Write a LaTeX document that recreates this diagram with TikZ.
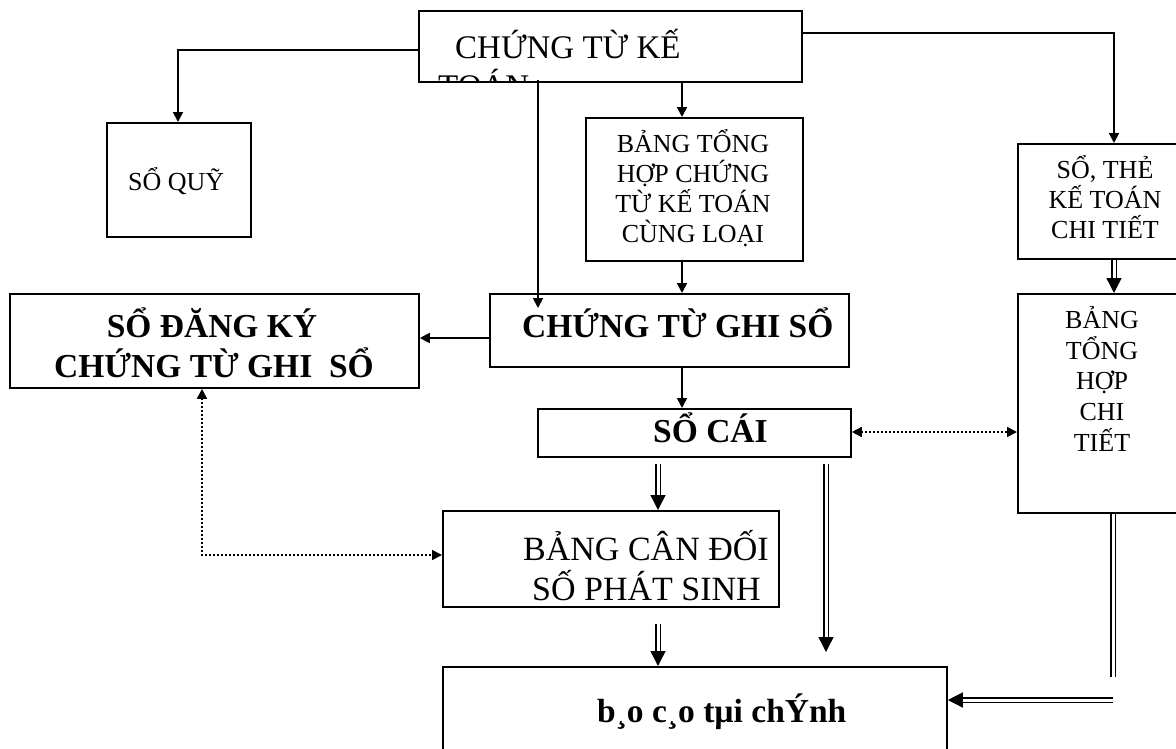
\documentclass[tikz,border=0pt]{standalone}
\usepackage{fontspec}
\setmainfont{Liberation Serif}
\usetikzlibrary{arrows.meta,calc}
\begin{document}
\begin{tikzpicture}[x=1pt,y=-1pt,
  box/.style={draw,line width=1.8pt,inner sep=0pt,anchor=north west},
  txt/.style={inner sep=0pt,anchor=base},
  txtl/.style={inner sep=0pt,anchor=base west},
  small/.style={font=\fontsize{26}{30}\selectfont},
  big/.style={font=\fontsize{34}{38}\selectfont},
  bigb/.style={font=\fontsize{33.5}{38}\selectfont\bfseries},
  arr/.style={line width=1.8pt,-{Triangle[length=10pt,width=10pt]}},
  dotarr/.style={line width=1.6pt,dash pattern=on 1.6pt off 2.4pt,{Triangle[length=10pt,width=10pt]}-{Triangle[length=10pt,width=10pt]}},
  dbl/.style={line width=1.4pt,double=white,double distance=3pt,-{Triangle[length=15pt,width=15pt]}},
  dblline/.style={line width=1.4pt,double=white,double distance=3pt}]
\useasboundingbox (0,0) rectangle (1176,748);
\clip (0,0) rectangle (1176,748);

% boxes
\node[box,minimum width=383pt,minimum height=71pt] (ctkt) at (418,10) {};
\node[box,minimum width=144pt,minimum height=114pt] (soquy) at (106,122) {};
\node[box,minimum width=217pt,minimum height=143pt] (bthctkt) at (585,117) {};
\node[box,minimum width=170pt,minimum height=115pt] (sothe) at (1017,143) {};
\node[box,minimum width=409pt,minimum height=94pt] (sodk) at (9,293) {};
\node[box,minimum width=359pt,minimum height=73pt] (ctgs) at (489,293) {};
\node[box,minimum width=170pt,minimum height=219pt] (bthct) at (1017,293) {};
\node[box,minimum width=313pt,minimum height=48pt] (socai) at (537,408) {};
\node[box,minimum width=336pt,minimum height=96pt] (bcd) at (442,510) {};
\node[box,minimum width=504pt,minimum height=100pt] (bctc) at (442,666) {};

% texts
\begin{scope}
\clip (419,11) rectangle (800,80);
\node[txtl,font=\fontsize{33}{35}\selectfont] (t1a) at (455,58) {CHỨNG TỪ KẾ};
\node[txtl,font=\fontsize{33}{35}\selectfont] (t1b) at (438,97) {TOÁN};
\end{scope}
\node[txtl,small] (tq) at (128,190) {SỔ QUỸ};

\node[txt,small] (b1) at (693,152) {BẢNG TỔNG};
\node[txt,small] (b2) at (693,182) {HỢP CHỨNG};
\node[txt,small] (b3) at (693,212) {TỪ KẾ TOÁN};
\node[txt,small] (b4) at (693,242) {CÙNG LOẠI};

\node[txt,small] (s1) at (1105,178) {SỔ, THẺ};
\node[txt,small] (s2) at (1105,208) {KẾ TOÁN};
\node[txt,small] (s3) at (1105,238) {CHI TIẾT};

\node[txt,small] (h1) at (1102,328) {BẢNG};
\node[txt,small] (h2) at (1102,359) {TỔNG};
\node[txt,small] (h3) at (1102,389) {HỢP};
\node[txt,small] (h4) at (1102,420) {CHI};
\node[txt,small] (h5) at (1102,451) {TIẾT};

\node[txt,bigb] (d1) at (212,337) {SỔ ĐĂNG KÝ};
\node[txt,bigb] (d2) at (214,377) {CHỨNG TỪ GHI\ \ SỔ};

\node[txtl,bigb] (g1) at (522,337) {CHỨNG TỪ GHI SỔ};
\node[txtl,bigb] (c1) at (653,442) {SỔ CÁI};

\node[txtl,big] (p1) at (523,560) {BẢNG CÂN ĐỐI};
\node[txtl,big] (p2) at (532,600) {SỐ PHÁT SINH};

\node[txtl,bigb] (r1) at (597,722) {b¸o c¸o tµi chÝnh};

% connectors
\draw[arr] ($(ctkt.north west)+(0,40)$) -| ($(soquy.north west)+(72,0)$);
\draw[arr] ($(ctkt.north east)+(0,23)$) -| ($(sothe.north west)+(97,0)$);
\draw[arr] ($(ctkt.south west)+(120,-3)$) -- ($(ctgs.north west)+(49,15)$);
\draw[arr] ($(ctkt.south west)+(264,0)$) -- ($(bthctkt.north west)+(97,0)$);
\draw[arr] ($(bthctkt.south west)+(97,0)$) -- ($(ctgs.north west)+(193,0)$);
\draw[arr] ($(ctgs.north west)+(0,45)$) -- ($(sodk.north east)+(0,45)$);
\draw[arr] ($(ctgs.south west)+(193,0)$) -- ($(socai.north west)+(145,0)$);

\draw[dotarr] ($(socai.north east)+(0,24)$) -- ($(bthct.north west)+(0,139)$);
\draw[dotarr] ($(sodk.south west)+(193,0)$) |- ($(bcd.north west)+(0,45)$);

\coordinate (e1) at (826,652);
\coordinate (e2) at (1113,677);
\coordinate (e3) at (1113,700);
\draw[dbl] ($(socai.south west)+(121,6)$) -- ($(bcd.north west)+(216,0)$);
\draw[dbl] ($(bcd.south west)+(216,16)$) -- ($(bctc.north west)+(216,0)$);
\draw[dbl] ($(socai.south west)+(289,6)$) -- (e1);
\draw[dbl] ($(sothe.south west)+(97,0)$) -- ($(bthct.north west)+(97,0)$);
\draw[dblline] ($(bthct.south west)+(96,0)$) -- (e2);
\draw[dbl] (e3) -- ($(bctc.north east)+(0,34)$);
\end{tikzpicture}
\end{document}
